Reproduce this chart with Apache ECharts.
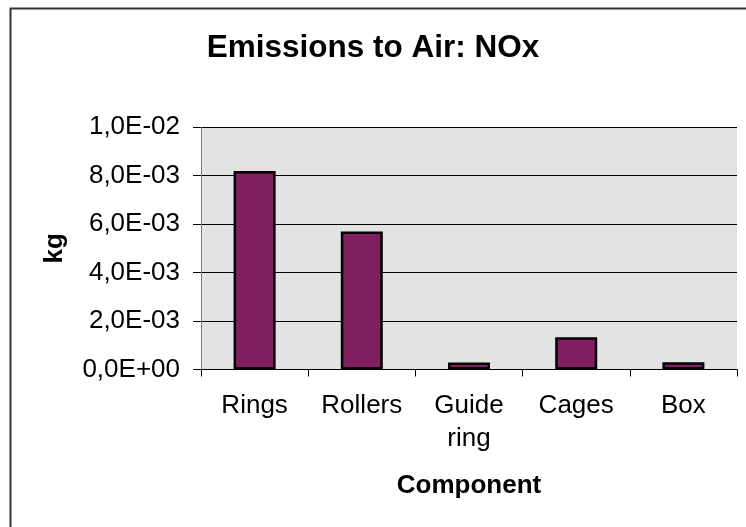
<!DOCTYPE html>
<html>
<head>
<meta charset="utf-8">
<script src="https://cdn.jsdelivr.net/npm/echarts@6/dist/echarts.min.js"></script>
<style>
  html, body { margin: 0; padding: 0; background: #ffffff; }
  #chart { width: 746px; height: 527px; }
</style>
</head>
<body>
<div id="chart"></div>
<script>
// NOx emissions to air per bearing component (kg)
const categories = ['Rings', 'Rollers', 'Guide\nring', 'Cages', 'Box'];
const noxKg = [0.0082, 0.0057, 0.00029, 0.00133, 0.0003];
const yTicks = { min: 0, max: 0.01, interval: 0.002 };

// Scientific notation with decimal comma, e.g. 8,0E-03
function sciComma(v) {
  if (v === 0) return '0,0E+00';
  const parts = v.toExponential(1).split('e');
  const mant = parts[0].replace('.', ',');
  const exp = parseInt(parts[1], 10);
  const sign = exp < 0 ? '-' : '+';
  const digits = String(Math.abs(exp)).padStart(2, '0');
  return mant + 'E' + sign + digits;
}

const font = 'Arial, "Liberation Sans", Helvetica, sans-serif';
const chart = echarts.init(document.getElementById('chart'), null, { renderer: 'canvas' });

chart.setOption({
  animation: false,
  backgroundColor: '#ffffff',
  title: {
    text: 'Emissions to Air: NOx',
    left: 'center',
    top: 27,
    padding: [5, 5, 5, 27],
    textStyle: { fontFamily: font, fontSize: 31.5, fontWeight: 'bold', color: '#000' }
  },
  graphic: [{
    type: 'rect',
    silent: true,
    z: 100,
    shape: { x: 10.5, y: 8.5, width: 800, height: 600 },
    style: { fill: 'none', stroke: '#333333', lineWidth: 2 }
  }],
  grid: {
    left: 201, right: 9, top: 127.3, bottom: 157.5,
    show: true,
    backgroundColor: '#e3e3e3',
    borderWidth: 0
  },
  xAxis: {
    type: 'category',
    data: categories,
    name: 'Component',
    nameLocation: 'middle',
    nameGap: 103,
    nameTextStyle: { fontFamily: font, fontSize: 26, fontWeight: 'bold', color: '#000' },
    axisLine: { show: true, lineStyle: { color: '#000', width: 1 } },
    axisTick: { show: true, alignWithLabel: false, length: 7, lineStyle: { color: '#000' } },
    axisLabel: {
      fontFamily: font, fontSize: 26, color: '#000', margin: 20, lineHeight: 33,
      interval: 0
    },
    splitLine: { show: false }
  },
  yAxis: {
    type: 'value',
    min: yTicks.min,
    max: yTicks.max,
    interval: yTicks.interval,
    name: 'kg',
    nameLocation: 'middle',
    nameGap: 133,
    nameRotate: 90,
    nameTextStyle: { fontFamily: font, fontSize: 26, fontWeight: 'bold', color: '#000' },
    axisLine: { show: true, lineStyle: { color: '#808080', width: 1 } },
    axisTick: { show: true, length: 8, lineStyle: { color: '#000' } },
    axisLabel: {
      fontFamily: font, fontSize: 26, color: '#000', margin: 21,
      formatter: sciComma
    },
    splitLine: { show: true, lineStyle: { color: '#000', width: 1 } }
  },
  series: [{
    type: 'bar',
    data: noxKg,
    barWidth: 42,
    itemStyle: { color: '#802060', borderColor: '#000', borderWidth: 2.5 }
  }]
});
</script>
</body>
</html>
